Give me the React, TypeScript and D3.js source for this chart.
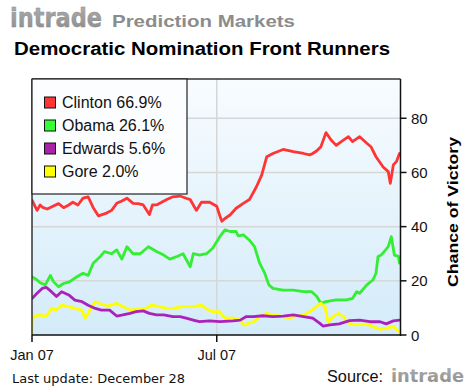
import React from "react";
import * as d3 from "d3";

// ---- Data (day of year 2007, value in %) ----
const clintonDays = [0,3,5,8,11,15,21,26,31,36,40,45,50,55,60,65,73,78,83,88,93,99,104,109,115,118,122,127,132,138,145,151,155,158,161,166,174,181,184,186,189,194,200,207,213,220,225,230,236,246,256,266,272,275,279,283,288,293,298,303,310,314,321,328,332,337,344,349,351,354,357,360];
const clintonVals = [49.8,47.5,46,48,47,46.5,47.6,48.5,47,48,49,48,50.5,51,47,44,45,46,48.6,49.5,50.5,48.6,48.5,48,44.5,48,48,49,50,51,51.3,50.5,50,48,46,49,49,47.5,44,42,43,44.3,46.8,48.6,50,54.8,59,65.8,67,68.5,67.7,67,66.5,67,68,69.5,74.7,72,70,71.4,73.2,71.4,73.2,70.8,69.5,65.8,62,60.3,56,62.8,64,67];

const obamaDays = [0,5,8,13,18,21,26,31,37,44,50,55,60,67,71,78,83,88,93,99,106,114,122,129,135,142,148,155,158,164,171,177,184,189,194,200,202,207,213,218,223,228,232,236,246,256,266,274,279,283,288,298,308,314,318,321,328,334,337,339,342,345,349,352,355,359,360];
const obamaVals = [21.5,20.3,19.3,18.5,22,19.7,17.8,19,19.7,21.5,22.8,22,26.5,29,30.8,30,31.4,28,32.6,30,30,32.6,30.8,29.5,28,29,30,25.2,30,29.5,30,32,36.3,38.8,38.2,38.2,36.6,37,35,32.6,26.5,22.8,18.5,17.2,16.6,16.6,16,16,14.2,11.7,12.3,13,13,13.5,16,15.4,18.5,20.3,22.8,29,29.5,30.8,32.6,36.3,29.5,29,26.5];

const edwardsDays = [0,5,10,14,19,24,29,36,42,49,55,62,68,76,83,89,96,102,109,115,122,129,138,145,151,158,164,174,184,197,204,210,217,226,236,246,256,266,275,282,285,292,301,311,321,331,341,347,354,360];
const edwardsVals = [13.5,15.4,17.2,17.6,16,14.2,16,14.8,12.9,12.3,11,9.8,9.2,9.2,7,7.4,8,8.6,8.9,8,7.4,7.4,6.8,6.8,6.2,5.5,4.9,5.2,4.9,5.2,5.5,6.8,6.8,7.1,6.8,7,7.4,6.8,6.2,4.3,3.3,3.7,4.1,5.3,5.5,4.9,4.9,4.1,5.2,5.5];

const goreDays = [0,1,8,14,19,24,29,36,42,49,52,57,62,68,75,83,89,96,102,111,117,125,132,138,148,158,166,173,177,184,189,197,204,208,217,223,230,236,246,252,259,266,275,280,283,287,290,295,300,305,310,318,328,334,341,347,354,360];
const goreVals = [0.6,6.8,7.4,6.8,9.8,9.2,11,10.5,9.8,9.2,6.2,9.2,12.3,11.4,10.7,11.7,10.5,9.2,9.5,9.8,11,10.5,9.8,9.8,10.5,10.5,11,9.2,8.6,8.6,6.2,6.2,5.5,3.7,4.9,6.8,8,7.4,6.8,6.2,7,7.4,9.2,11,11.7,10.5,4.9,6.8,8,6.8,4.3,3.7,4.1,3.1,2.1,2.5,3.1,1.2];

const seriesNames = ["Clinton", "Obama", "Edwards", "Gore"];
const seriesLatest = ["66.9%", "26.1%", "5.6%", "2.0%"];
const yTicks = [0, 20, 40, 60, 80];
const xTickDays = [0, 181];
const xTickLabels = ["Jan 07", "Jul 07"];

const lineColors = ["#ff3535", "#33ee33", "#aa22bb", "#ffff00"];
const swatchColors = ["#ff3535", "#33ff33", "#aa22aa", "#ffff00"];

const FONT = "'Liberation Sans', Arial, Helvetica, sans-serif";

export default function App() {
  const left = 32, right = 400.5, top = 79, bottom = 335;
  const x = d3.scaleLinear().domain([0, 361]).range([left, right]);
  const y = d3.scaleLinear().domain([0, 94.5]).range([bottom, top]);

  const series = [
    { days: clintonDays, vals: clintonVals },
    { days: obamaDays, vals: obamaVals },
    { days: edwardsDays, vals: edwardsVals },
    { days: goreDays, vals: goreVals },
  ];
  const line = d3
    .line<[number, number]>()
    .x((d) => x(d[0]))
    .y((d) => y(d[1]));

  const drawOrder = [0, 1, 3, 2];

  return (
    <svg
      width={470}
      height={391}
      style={{ position: "fixed", left: 0, top: 0, background: "#fff" }}
    >
      <defs>
        <linearGradient id="bg" x1="0" y1="0" x2="0" y2="1">
          <stop offset="0" stopColor="#f8fcff" />
          <stop offset="1" stopColor="#d3ebf9" />
        </linearGradient>
        <linearGradient id="logo" x1="0" y1="0" x2="0" y2="1">
          <stop offset="0" stopColor="#b0b0b0" />
          <stop offset="1" stopColor="#8a8a8a" />
        </linearGradient>
        <clipPath id="plotclip">
          <rect x={left} y={top} width={right - left} height={bottom - top} />
        </clipPath>
      </defs>

      {/* Header */}
      <text x={10} y={27} fontFamily="'DejaVu Sans', Verdana, sans-serif" fontWeight="bold" fontSize={26} fill="url(#logo)" stroke="#888" strokeWidth={0.4} textLength={92} lengthAdjust="spacingAndGlyphs">
        intrade
      </text>
      <text x={112} y={27} fontFamily={FONT} fontWeight="bold" fontSize={17} fill="#8c8c8c" textLength={183} lengthAdjust="spacingAndGlyphs">
        Prediction Markets
      </text>
      <text x={14} y={55} fontFamily={FONT} fontWeight="bold" fontSize={18} fill="#000" textLength={376} lengthAdjust="spacingAndGlyphs">
        Democratic Nomination Front Runners
      </text>

      {/* Plot background */}
      <rect x={left} y={top} width={right - left} height={bottom - top} fill="url(#bg)" />

      {/* Grid */}
      {yTicks.filter((t) => t > 0).map((t) => (
        <line key={"g" + t} x1={left} x2={right} y1={y(t)} y2={y(t)} stroke="#d6d6d6" strokeWidth={1.5} />
      ))}
      <line x1={x(181)} x2={x(181)} y1={top} y2={bottom} stroke="#d6d6d6" strokeWidth={1.5} />

      {/* Lines */}
      <g clipPath="url(#plotclip)">
        {drawOrder.map((i) => {
          const s = series[i];
          const pts: [number, number][] = s.days.map((d, k) => [d, s.vals[k]]);
          return (
            <path
              key={seriesNames[i]}
              d={line(pts) || ""}
              fill="none"
              stroke={lineColors[i]}
              strokeWidth={2.8}
              strokeLinejoin="round"
              strokeLinecap="round"
            />
          );
        })}
      </g>

      {/* Frame */}
      <line x1={left} x2={left} y1={top} y2={bottom} stroke="#333" strokeWidth={1.5} />
      <line x1={left} x2={right} y1={top} y2={top} stroke="#333" strokeWidth={1.5} />
      <line x1={right} x2={right} y1={top} y2={bottom + 1} stroke="#111" strokeWidth={1.5} />
      <line x1={left} x2={right} y1={bottom} y2={bottom} stroke="#111" strokeWidth={1.5} />

      {/* Right axis */}
      {yTicks.map((t) => (
        <g key={"yt" + t}>
          <line x1={right} x2={right + 6} y1={y(t)} y2={y(t)} stroke="#111" strokeWidth={1.5} />
          <text x={411} y={y(t) + 5.5} fontFamily={FONT} fontSize={15} fill="#111">
            {t}
          </text>
        </g>
      ))}
      <text
        transform={`translate(458,212) rotate(-90)`}
        textAnchor="middle"
        fontFamily={FONT}
        fontWeight="bold"
        fontSize={15.5}
        fill="#000"
        textLength={150}
        lengthAdjust="spacingAndGlyphs"
      >
        Chance of Victory
      </text>

      {/* Bottom axis */}
      {xTickDays.map((d, i) => (
        <g key={"xt" + d}>
          <line x1={x(d)} x2={x(d)} y1={bottom} y2={bottom + 7} stroke="#111" strokeWidth={1.5} />
          <text x={x(d)} y={359.5} textAnchor="middle" fontFamily={FONT} fontSize={14.5} fill="#111">
            {xTickLabels[i]}
          </text>
        </g>
      ))}

      {/* Legend */}
      <rect x={left} y={top} width={155} height={115} fill="#fcfdfe" stroke="#222" strokeWidth={1.2} />
      {seriesNames.map((n, i) => (
        <g key={"lg" + n}>
          <rect x={44.5} y={97 + i * 23} width={11} height={11} fill={swatchColors[i]} stroke="#111" strokeWidth={1} />
          <text x={62} y={108.3 + i * 23} fontFamily={FONT} fontSize={16} fill="#111">
            {n} {seriesLatest[i]}
          </text>
        </g>
      ))}

      {/* Footer */}
      <text x={12} y={383} fontFamily="Tahoma, 'DejaVu Sans', Verdana, sans-serif" fontSize={12.5} fill="#111" textLength={173} lengthAdjust="spacingAndGlyphs">
        Last update: December 28
      </text>
      <text x={327} y={382} fontFamily={FONT} fontSize={16} fill="#111" textLength={56} lengthAdjust="spacingAndGlyphs">
        Source:
      </text>
      <text x={391} y={382} fontFamily="'DejaVu Sans', Verdana, sans-serif" fontWeight="bold" fontSize={17} fill="url(#logo)" textLength={73} lengthAdjust="spacingAndGlyphs">
        intrade
      </text>
    </svg>
  );
}
